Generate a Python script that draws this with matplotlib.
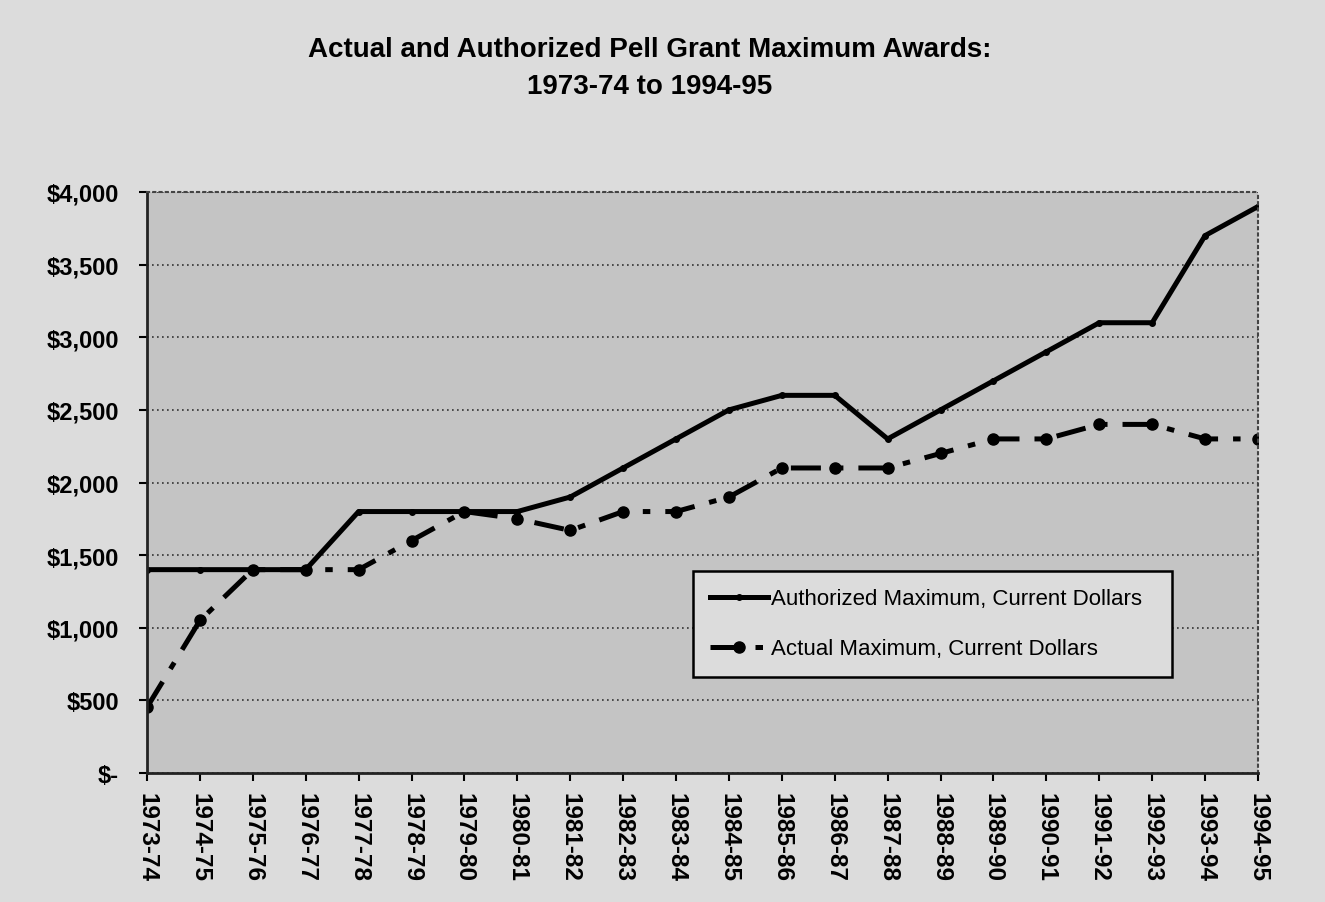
import matplotlib
matplotlib.use("Agg")
import matplotlib.pyplot as plt

plt.rcParams['font.family'] = ['Liberation Sans', 'DejaVu Sans']

years = ["1973-74", "1974-75", "1975-76", "1976-77", "1977-78", "1978-79",
         "1979-80", "1980-81", "1981-82", "1982-83", "1983-84", "1984-85",
         "1985-86", "1986-87", "1987-88", "1988-89", "1989-90", "1990-91",
         "1991-92", "1992-93", "1993-94", "1994-95"]
authorized = [1400, 1400, 1400, 1400, 1800, 1800, 1800, 1800, 1900, 2100, 2300,
              2500, 2600, 2600, 2300, 2500, 2700, 2900, 3100, 3100, 3700, 3900]
actual = [452, 1050, 1400, 1400, 1400, 1600, 1800, 1750, 1670, 1800, 1800,
          1900, 2100, 2100, 2100, 2200, 2300, 2300, 2400, 2400, 2300, 2300]
yticks = [0, 500, 1000, 1500, 2000, 2500, 3000, 3500, 4000]
ylabels = ["$-", "$500", "$1,000", "$1,500", "$2,000", "$2,500", "$3,000", "$3,500", "$4,000"]

fig = plt.figure(figsize=(13.25, 9.03), dpi=100, facecolor='#dcdcdc')
ax = fig.add_axes([147/1325, 1-774/903, 1111/1325, 581/903], facecolor='#c4c4c4')

x = list(range(len(years)))
ax.plot(x, authorized, color='black', lw=3.6, marker='o', ms=4,
        label='Authorized Maximum, Current Dollars')
ax.plot(x, actual, color='black', lw=3.6, linestyle=(0, (6, 3, 1.5, 3)),
        marker='o', ms=8, label='Actual Maximum, Current Dollars')

ax.set_xlim(0, len(years) - 1)
ax.set_ylim(0, 4000)
ax.set_yticks(yticks)
ax.set_yticklabels(ylabels, fontsize=17, fontweight='bold')
ax.set_xticks(x)
ax.set_xticklabels(years, rotation=-90, fontsize=17.5, fontweight='bold')
ax.tick_params(axis='both', length=6, width=1.5, color='black')
ax.tick_params(axis='y', pad=14)
ax.tick_params(axis='x', pad=8)
ax.yaxis.grid(True, color='#333333', linestyle=(0, (1, 2)), lw=1.2)
ax.set_axisbelow(True)

for side in ['left', 'bottom']:
    ax.spines[side].set_linewidth(2)
    ax.spines[side].set_color('#222222')
for side in ['top', 'right']:
    ax.spines[side].set_linestyle((0, (1, 2)))
    ax.spines[side].set_color('#444444')
    ax.spines[side].set_linewidth(1.5)

leg = ax.legend(loc='lower left', bbox_to_anchor=(0.491, 0.165, 0.432, 0.2),
                mode='expand', fancybox=False, framealpha=1, facecolor='#dcdcdc',
                edgecolor='black', fontsize=16, handlelength=2.6,
                handletextpad=0.15, labelspacing=1.3, borderpad=0.8,
                borderaxespad=0)
leg.get_frame().set_linewidth(1.8)

fig.text(0.49, 1 - 50/903, "Actual and Authorized Pell Grant Maximum Awards:",
         ha='center', va='center', fontsize=20, fontweight='bold')
fig.text(0.49, 1 - 87/903, "1973-74 to 1994-95",
         ha='center', va='center', fontsize=20, fontweight='bold')

fig.savefig("out.png", dpi=100, facecolor=fig.get_facecolor())
